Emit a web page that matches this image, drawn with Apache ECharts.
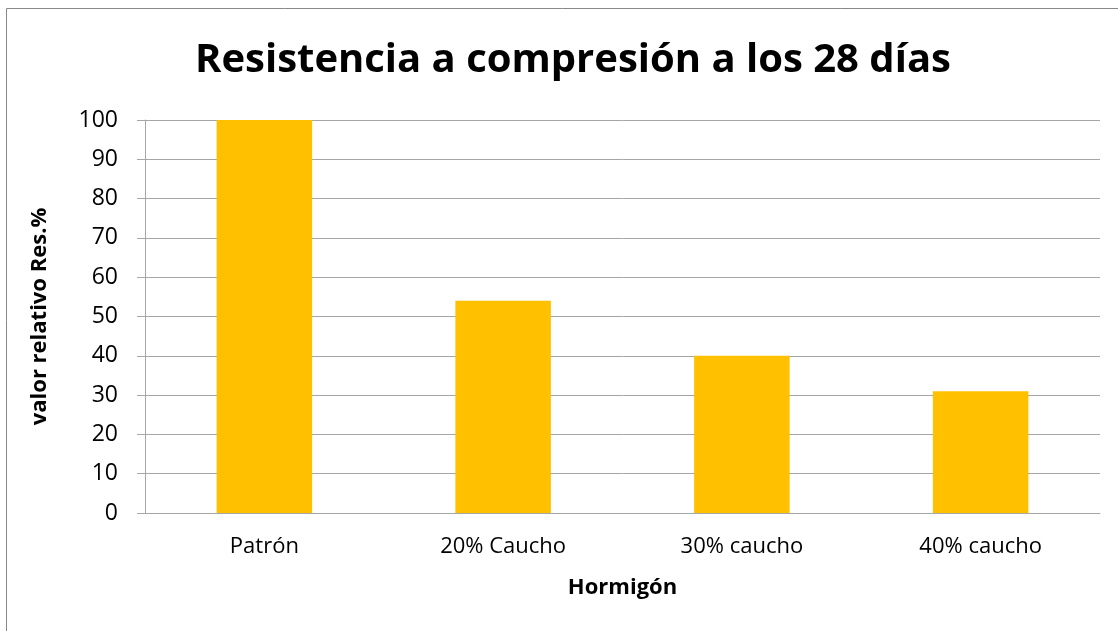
<!DOCTYPE html>
<html>
<head>
<meta charset="utf-8">
<script src="https://cdn.jsdelivr.net/npm/echarts@6/dist/echarts.min.js"></script>
<style>
	html, body { margin: 0; padding: 0; background: #fff; }
	#main { width: 1118px; height: 631px; }
</style>
</head>
<body>
<div id="main"></div>
<script>
// datos del gráfico
var categorias = ['Patrón', '20% Caucho', '30% caucho', '40% caucho'];
var valores = [100, 54, 40, 31];

var myChart = echarts.init(document.getElementById('main'));
var option = {
	backgroundColor: '#fff',
	animation: false,
	title: {
		text: 'Resistencia a compresión a los 28 días',
		left: 190,
		top: 36,
		textStyle: {
			fontFamily: 'Open Sans',
			fontWeight: 'bold',
			fontSize: 40,
			color: '#000'
		}
	},
	graphic: [{
		type: 'rect',
		shape: { x: 6.5, y: 8.5, width: 1140, height: 660 },
		style: { fill: 'none', stroke: '#888', lineWidth: 1 },
		silent: true
	}],
	grid: {
		left: 145,
		right: 18,
		top: 120,
		bottom: 118
	},
	xAxis: {
		type: 'category',
		data: categorias,
		name: 'Hormigón',
		nameLocation: 'middle',
		nameGap: 64,
		nameTextStyle: {
			fontFamily: 'Open Sans',
			fontWeight: 'bold',
			fontSize: 22,
			color: '#000'
		},
		axisLine: { lineStyle: { color: '#a6a6a6' } },
		axisTick: { show: false },
		axisLabel: {
			margin: 23,
			fontFamily: 'Open Sans',
			fontSize: 22,
			color: '#000'
		}
	},
	yAxis: {
		type: 'value',
		min: 0,
		max: 100,
		interval: 10,
		name: 'valor relativo Res.%',
		nameLocation: 'middle',
		nameGap: 94,
		nameTextStyle: {
			fontFamily: 'Open Sans',
			fontWeight: 'bold',
			fontSize: 22,
			color: '#000'
		},
		axisLine: { show: true, lineStyle: { color: '#a6a6a6' } },
		axisTick: { show: true, length: 8, lineStyle: { color: '#a6a6a6' } },
		axisLabel: {
			margin: 27,
			fontFamily: 'Open Sans',
			fontSize: 23,
			color: '#000'
		},
		splitLine: { lineStyle: { color: '#a6a6a6' } }
	},
	series: [{
		name: 'Resistencia',
		type: 'bar',
		data: valores,
		barCategoryGap: '60%',
		itemStyle: { color: '#FFC000' }
	}]
};
myChart.setOption(option);
</script>
</body>
</html>
